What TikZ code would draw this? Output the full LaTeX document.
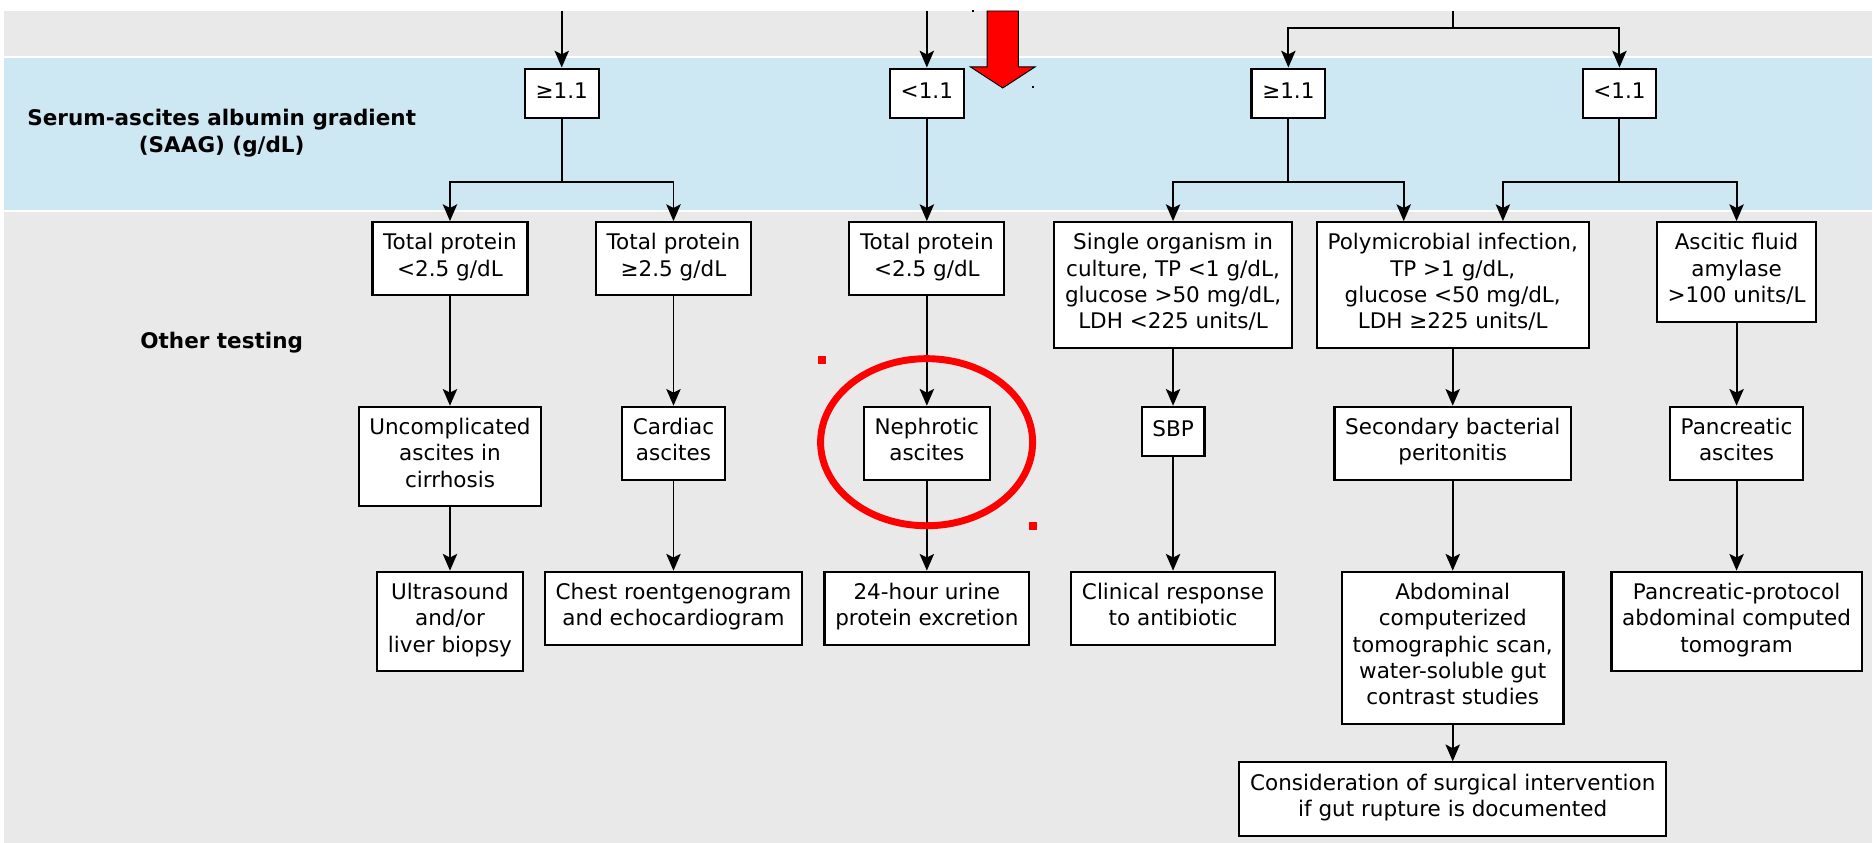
\documentclass[tikz,border=0pt]{standalone}
\usepackage{fontspec}
\setmainfont{DejaVu Sans}
\usepackage{xcolor}
\usepackage{tikz}
\usetikzlibrary{arrows.meta}
\usetikzlibrary{positioning}

\definecolor{bandgray}{RGB}{233,233,233}
\definecolor{bandblue}{RGB}{205,231,243}

\tikzset{
  box/.style={draw=black, fill=white, line width=0.9pt, anchor=north, align=center,
    inner xsep=4.5pt, inner ysep=4.75pt, font=\fontsize{9}{11}\selectfont,
    execute at begin node=\strut, execute at end node=\strut},
  arr/.style={-{Stealth[length=7pt,width=6pt,inset=1.5pt]}, line width=0.8pt},
  lbl/.style={align=center, font=\bfseries\fontsize{9}{11.5}\selectfont}
}

\begin{document}
\begin{tikzpicture}[x=0.5pt,y=-0.5pt]
\useasboundingbox (0,0) rectangle (1568,705);
\fill[bandgray] (3.3,9.2) rectangle (1566.6,705);
\fill[white] (3.3,46.6) rectangle (1566.6,177.4);
\fill[bandblue] (3.3,48.6) rectangle (1566.6,175.4);

\node at (185.5,111.5) (saag) [lbl] {Serum-ascites albumin gradient\\(SAAG) (g/dL)};
\node at (185.5,287) (other) [lbl] {Other testing};

\coordinate (in1) at (470,9.2);
\coordinate (in2) at (775.5,9.2);
\coordinate (in3) at (1215.5,9.2);
\coordinate (br) at (0,152.5);

\node at (470,56.5) (sa1) [box] {≥1.1};
\node at (775.5,56.5) (sa2) [box] {<1.1};
\node at (1078,56.5) (sa3) [box] {≥1.1};
\node at (1355,56.5) (sa4) [box] {<1.1};

\node at (376.5,185) (tp1) [box] {Total protein\\<2.5 g/dL};
\node at (563.5,185) (tp2) [box] {Total protein\\≥2.5 g/dL};
\node at (775.5,185) (tp3) [box] {Total protein\\<2.5 g/dL};
\node at (981.5,185) (single) [box] {Single organism in\\culture, TP <1 g/dL,\\glucose >50 mg/dL,\\LDH <225 units/L};
\node at (1215.5,185) (poly) [box] {Polymicrobial infection,\\TP >1 g/dL,\\glucose <50 mg/dL,\\LDH ≥225 units/L};
\node at (1453,185) (amyl) [box] {Ascitic fluid\\amylase\\>100 units/L};

\node at (376.5,339.5) (cirr) [box] {Uncomplicated\\ascites in\\cirrhosis};
\node at (563.5,339.5) (card) [box] {Cardiac\\ascites};
\node at (775.5,339.5) (neph) [box] {Nephrotic\\ascites};
\node at (981.5,339.5) (sbp) [box] {SBP};
\node at (1215.5,339.5) (sec) [box] {Secondary bacterial\\peritonitis};
\node at (1453,339.5) (panc) [box] {Pancreatic\\ascites};

\node at (376.5,477.5) (us) [box] {Ultrasound\\and/or\\liver biopsy};
\node at (563.5,477.5) (echo) [box] {Chest roentgenogram\\and echocardiogram};
\node at (775.5,477.5) (urine) [box] {24-hour urine\\protein excretion};
\node at (981.5,477.5) (abx) [box] {Clinical response\\to antibiotic};
\node at (1215.5,477.5) (ct) [box] {Abdominal\\computerized\\tomographic scan,\\water-soluble gut\\contrast studies};
\node at (1453,477.5) (pct) [box] {Pancreatic-protocol\\abdominal computed\\tomogram};

\node at (1215.5,637) (surg) [box] {Consideration of surgical intervention\\if gut rupture is documented};

\path[arr] (in1) edge (sa1);
\path[arr] (in2) edge (sa2);
\draw[arr] (in3) -- ++(0,14.5) -| (sa3);
\draw[arr] (in3) ++(0,14.5) -| (sa4);

\draw[arr] (sa1) -- (sa1 |- br) -| (tp1);
\draw[arr] (sa1 |- br) -| (tp2);
\path[arr] (sa2) edge (tp3);
\draw[arr] (sa3) -- (sa3 |- br) -| (single);
\draw[arr] (sa3 |- br) -| ([xshift=-20.5pt]poly.north);
\draw[arr] (sa4) -- (sa4 |- br) -| ([xshift=21pt]poly.north);
\draw[arr] (sa4 |- br) -| (amyl);

\path[arr] (tp1) edge (cirr);
\path[arr] (tp2) edge (card);
\path[arr] (tp3) edge (neph);
\path[arr] (single) edge (sbp);
\path[arr] (poly) edge (sec);
\path[arr] (amyl) edge (panc);

\path[arr] (cirr) edge (us);
\path[arr] (card) edge (echo);
\path[arr] (neph) edge (urine);
\path[arr] (sbp) edge (abx);
\path[arr] (sec) edge (ct);
\path[arr] (panc) edge (pct);
\path[arr] (ct) edge (surg);

\filldraw[fill=red, draw=black, line width=0.4pt] (826,9.2) -- (852,9.2) -- (852,56) -- (866,56) -- (839,73.6) -- (812,56) -- (826,56) -- cycle;
\fill (813.3,8.5) rectangle ++(1.6,1.6);
\fill (863.6,72) rectangle ++(1.6,1.6);

\draw[red, line width=2.9pt] (775.3,370) ellipse [x radius=44.35pt, y radius=34.95pt];
\fill[red] (684.05,297.65) rectangle ++(6.7,6.7);
\fill[red] (861.05,436.65) rectangle ++(6.7,6.7);
\end{tikzpicture}
\end{document}
